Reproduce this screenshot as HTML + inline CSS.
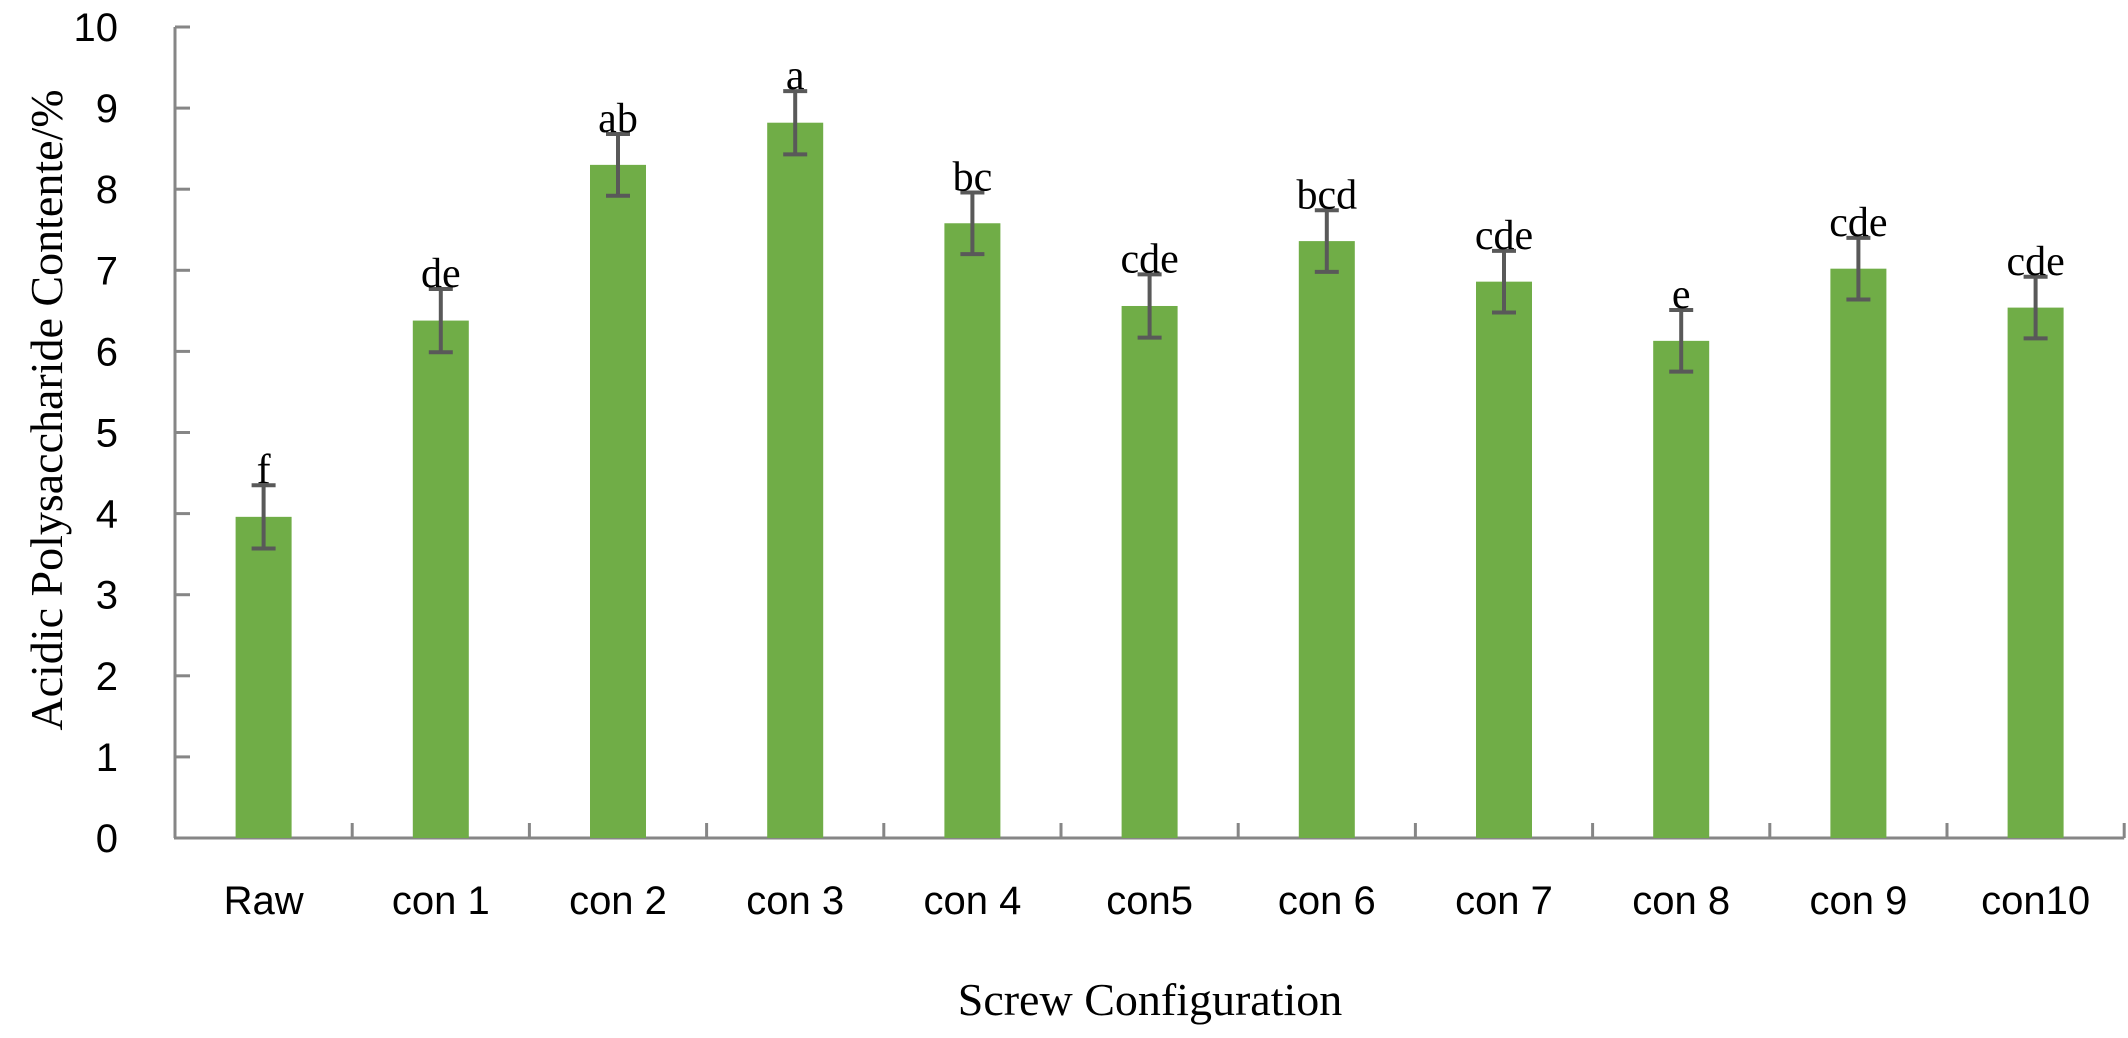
<!DOCTYPE html>
<html><head><meta charset="utf-8"><style>
html,body{margin:0;padding:0;background:#fff;}
svg{display:block;}
</style></head><body>
<svg id="chart" width="2128" height="1038" viewBox="0 0 2128 1038" xmlns="http://www.w3.org/2000/svg">
<g id="axes"></g>
<g id="bars"></g>
<text x="1150" y="1015" text-anchor="middle" font-family="Liberation Serif, serif" font-size="46">Screw Configuration</text>
<text transform="translate(62,410) rotate(-90)" text-anchor="middle" font-family="Liberation Serif, serif" font-size="46">Acidic Polysaccharide Contente/%</text>
</svg>
<script>
const categories = ["Raw","con 1","con 2","con 3","con 4","con5","con 6","con 7","con 8","con 9","con10"];
const values = [3.96,6.38,8.30,8.82,7.58,6.56,7.36,6.86,6.13,7.02,6.54];
const errors = [0.39,0.39,0.38,0.39,0.38,0.39,0.38,0.38,0.38,0.38,0.38];
const letters = ["f","de","ab","a","bc","cde","bcd","cde","e","cde","cde"];
const yTicks = [0,1,2,3,4,5,6,7,8,9,10];

const NS = "http://www.w3.org/2000/svg";
const x0 = 175, y0 = 838, yTop = 27, catW = 177.2, barW = 56;
function yScale(v){ return y0 - (v/10)*(y0-yTop); }
function xCenter(i){ return x0 + catW*(i+0.5); }
function mk(tag, attrs, parent){ const e=document.createElementNS(NS,tag); for(const k in attrs) e.setAttribute(k,attrs[k]); parent.appendChild(e); return e; }

const axes = document.getElementById("axes");
const bars = document.getElementById("bars");
const xEnd = x0 + catW*categories.length;

let yl = mk("line",{x1:x0,y1:yTop,x2:x0,y2:y0,stroke:"#868686","stroke-width":3},axes);


let xl = mk("line",{x1:x0-1,y1:y0,x2:xEnd,y2:y0,stroke:"#868686","stroke-width":3},axes);



yTicks.forEach(t=>{
  const y=yScale(t);
  const tk=mk("line",{x1:x0,y1:y,x2:x0+15,y2:y,stroke:"#868686","stroke-width":3},axes);
  
  
  const lb=mk("text",{x:118,y:y+14,"text-anchor":"end","font-family":"Liberation Sans, sans-serif","font-size":40},axes);
  lb.textContent=t;
  
  
});

for(let i=0;i<=categories.length;i++){
  const x=x0+catW*i;
  const tk=mk("line",{x1:x,y1:y0,x2:x,y2:y0-15,stroke:"#868686","stroke-width":3},axes);
  
  
}

categories.forEach((c,i)=>{
  const cx=xCenter(i), v=values[i], e=errors[i];
  const r=mk("rect",{x:cx-barW/2,y:yScale(v),width:barW,height:y0-yScale(v),fill:"#70AD47"},bars);
  
  
  const g=mk("g",{stroke:"#595959","stroke-width":4},bars);
  
  
  mk("line",{x1:cx,y1:yScale(v+e),x2:cx,y2:yScale(v-e)},g);
  mk("line",{x1:cx-12,y1:yScale(v+e),x2:cx+12,y2:yScale(v+e)},g);
  mk("line",{x1:cx-12,y1:yScale(v-e),x2:cx+12,y2:yScale(v-e)},g);
  const lt=mk("text",{x:cx,y:yScale(v+e)-2,"text-anchor":"middle","font-family":"Liberation Serif, serif","font-size":42},bars);
  lt.textContent=letters[i];
  
  
  const cl=mk("text",{x:cx,y:914,"text-anchor":"middle","font-family":"Liberation Sans, sans-serif","font-size":40},bars);
  cl.textContent=c;
  
  
});
</script>
</body></html>
